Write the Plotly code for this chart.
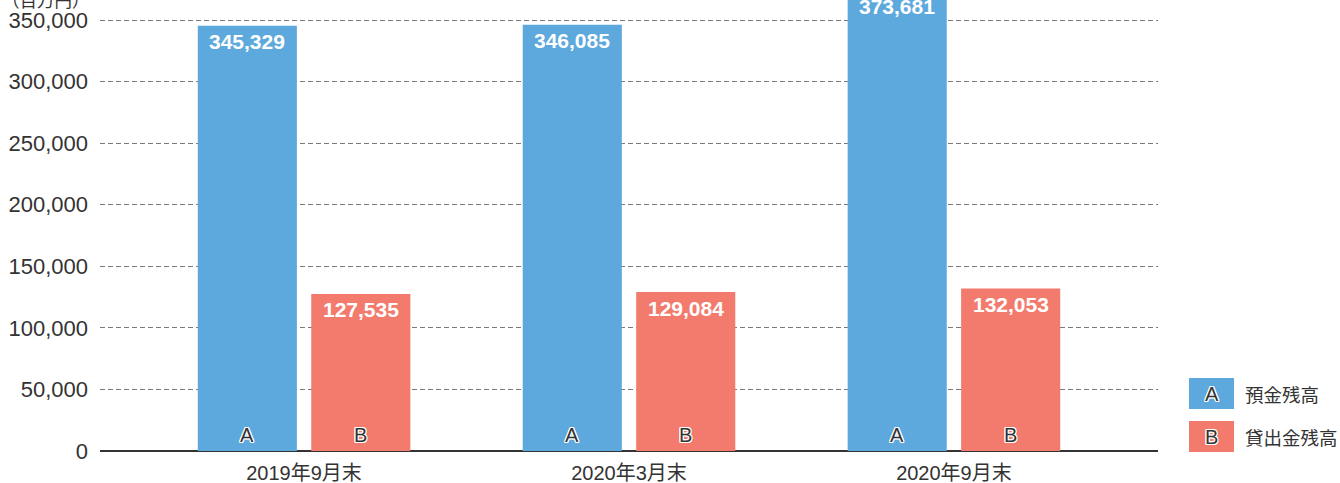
import plotly.graph_objects as go

categories = ["2019年9月末", "2020年3月末", "2020年9月末"]
deposits = [345329, 346085, 373681]
loans = [127535, 129084, 132053]
series_names = ["預金残高", "貸出金残高"]
series_letters = ["A", "B"]
y_ticks = [0, 50000, 100000, 150000, 200000, 250000, 300000, 350000]
unit_label = "（百万円）"

BLUE = "#5DA9DD"
RED = "#F27B6E"
FONT = "Liberation Sans, Arial, Noto Sans CJK JP, sans-serif"
JFONT = "Noto Sans CJK JP, sans-serif"
OUTLINE = "1px 1px 0 white, -1px -1px 0 white, 1px -1px 0 white, -1px 1px 0 white, 0 1px 0 white, 0 -1px 0 white, 1px 0 0 white, -1px 0 0 white"

BW = 0.305
OFF = 0.1746
ymax = 451 / (431 / 350000)

fig = go.Figure()
xs = list(range(len(categories)))
for vals, color, name, sign in [(deposits, BLUE, series_names[0], -1), (loans, RED, series_names[1], 1)]:
    fig.add_trace(go.Bar(
        x=xs, y=vals, width=BW, offset=sign * OFF - BW / 2,
        marker=dict(color=color, line=dict(width=0)),
        name=name, showlegend=False, hoverinfo="skip",
    ))

annotations = []
for i in xs:
    for vals, sign, letter in [(deposits, -1, series_letters[0]), (loans, 1, series_letters[1])]:
        annotations.append(dict(
            x=i + sign * OFF, y=vals[i] / ymax, xref="x", yref="paper",
            text=f"{vals[i]:,}", showarrow=False, xanchor="center", yanchor="middle", yshift=-16,
            font=dict(family=FONT, size=21, color="white", weight=600),
        ))
        annotations.append(dict(
            x=i + sign * OFF, y=0, xref="x", yref="paper",
            text=letter, showarrow=False, xanchor="center", yanchor="middle", yshift=16,
            font=dict(family=FONT, size=20, color="#333333", shadow=OUTLINE),
        ))

# unit label at top-left (partly cut off)
annotations.append(dict(
    x=-100 / 1058, y=1.0, xref="paper", yref="paper", xanchor="left", yanchor="middle",
    yshift=1, text=unit_label, showarrow=False,
    font=dict(family=JFONT, size=17.5, color="#333333"),
))

# legend boxes
shapes = []
legend_colors = [BLUE, RED]
for k in range(2):
    y0 = 378 + k * 43
    shapes.append(dict(type="rect", xref="paper", yref="paper",
                       x0=(1189 - 100) / 1058, x1=(1234 - 100) / 1058,
                       y0=(451 - (y0 + 31)) / 451, y1=(451 - y0) / 451,
                       fillcolor=legend_colors[k], line=dict(width=0)))
    annotations.append(dict(x=(1211.5 - 100) / 1058, y=(451 - (y0 + 15.5)) / 451, xref="paper", yref="paper",
                            xanchor="center", yanchor="middle",
                            text=series_letters[k], showarrow=False,
                            font=dict(family=FONT, size=20, color="#333333", shadow=OUTLINE)))
    annotations.append(dict(x=(1243 - 100) / 1058, y=(451 - (y0 + 15.5)) / 451, xref="paper", yref="paper",
                            xanchor="left", yanchor="middle", text=series_names[k], showarrow=False,
                            font=dict(family=JFONT, size=18.5, color="#333333")))

fig.update_layout(
    width=1340, height=483,
    margin=dict(l=100, r=182, t=0, b=32),
    plot_bgcolor="white", paper_bgcolor="white",
    barmode="overlay",
    xaxis=dict(range=[-0.628, 2.628], tickmode="array", tickvals=xs, ticktext=categories,
               showgrid=False, zeroline=False, showline=False, ticks="", ticklabelstandoff=8,
               tickfont=dict(family=FONT, size=20, color="#333333")),
    yaxis=dict(range=[0, ymax], tickmode="array", tickvals=y_ticks,
               ticktext=[f"{v:,}" for v in y_ticks],
               showgrid=True, gridcolor="#7a7a7a", griddash="5px,3px", gridwidth=1,
               zeroline=True, zerolinecolor="#333333", zerolinewidth=1.5,
               showline=False, ticks="", ticklabelstandoff=11,
               tickfont=dict(family=FONT, size=22, color="#333333")),
    annotations=annotations, shapes=shapes,
)

fig.write_html("out.html")
